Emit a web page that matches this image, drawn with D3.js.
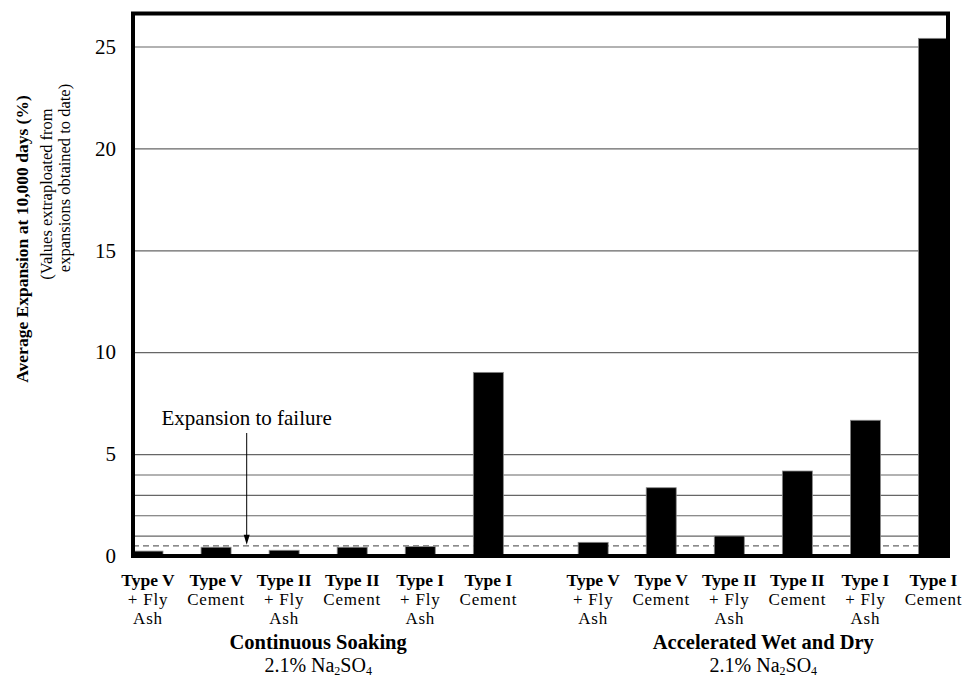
<!DOCTYPE html>
<html>
<head>
<meta charset="utf-8">
<script src="https://cdn.jsdelivr.net/npm/d3@7"></script>
<style>
  html, body { margin: 0; padding: 0; background: #fff; }
  svg text { font-family: "Liberation Serif", "Times New Roman", Tinos, "DejaVu Serif", serif; }
</style>
</head>
<body>
<svg id="chart" width="965" height="680"></svg>
<script>
// ---------- data ----------
const typeLabels = ["Type V", "Type V", "Type II", "Type II", "Type I", "Type I"];
const subLabels = [["+ Fly", "Ash"], ["Cement"], ["+ Fly", "Ash"], ["Cement"], ["+ Fly", "Ash"], ["Cement"]];
const groupNames = ["Continuous Soaking", "Accelerated Wet and Dry"];
const continuousSoaking = [0.24, 0.43, 0.28, 0.43, 0.46, 9.01];
const acceleratedWetDry = [0.67, 3.35, 0.98, 4.17, 6.66, 25.4];
const yTickValues = [0, 5, 10, 15, 20, 25];
const gridValues = [1, 2, 3, 4, 5, 10, 15, 20, 25];
const failureExpansion = 0.5;

// ---------- layout ----------
const FONT = '"Liberation Serif", "Times New Roman", Tinos, "DejaVu Serif", serif';
const svg = d3.select("#chart");
const pL = 133, pR = 948, pT = 13.5, pB = 556;
const groupOffset = 6.54;   // slot offset of second group
const barW = 30;

const y = d3.scaleLinear().domain([0, 25]).range([pB, 46.5]);
const x = d3.scaleLinear().domain([0, 11.54]).range([148, 933.5]);

const bars = [];
[continuousSoaking, acceleratedWetDry].forEach((vals, g) => {
  vals.forEach((v, i) => bars.push({ g, i, v, slot: i + g * groupOffset }));
});

// gridlines
const grid = svg.append("g")
  .attr("transform", `translate(${pL},0)`)
  .call(d3.axisLeft(y).tickValues(gridValues).tickSize(-(pR - pL)).tickFormat(""));
grid.select(".domain").remove();
grid.selectAll("line").attr("stroke", "#666").attr("stroke-width", 1.2);

// failure dashed line
svg.append("line")
  .attr("x1", pL).attr("x2", pR)
  .attr("y1", y(failureExpansion)).attr("y2", y(failureExpansion))
  .attr("stroke", "#666").attr("stroke-width", 1.2)
  .attr("stroke-dasharray", "6,4");

// bars
svg.append("g").selectAll("rect").data(bars).join("rect")
  .attr("x", d => x(d.slot) - barW / 2)
  .attr("width", barW)
  .attr("y", d => y(d.v))
  .attr("height", d => y(0) - y(d.v))
  .attr("fill", "#000")
  .attr("stroke", "#888").attr("stroke-width", 0.8);

// frame
svg.append("rect")
  .attr("x", pL).attr("y", pT)
  .attr("width", pR - pL).attr("height", pB - pT)
  .attr("fill", "none").attr("stroke", "#000").attr("stroke-width", 4);

// y axis labels
const yAxis = svg.append("g")
  .attr("transform", `translate(${pL},0)`)
  .call(d3.axisLeft(y).tickValues(yTickValues).tickSize(0).tickPadding(17).tickFormat(d3.format("d")));
yAxis.attr("font-family", FONT);
yAxis.select(".domain").remove();
yAxis.selectAll("text")
  .attr("font-size", 21).attr("fill", "#000");

// y title
svg.append("text")
  .attr("transform", "translate(28,239) rotate(-90)")
  .attr("text-anchor", "middle")
  .attr("font-weight", "bold").attr("font-size", 17.5)
  .text("Average Expansion at 10,000 days (%)");
svg.append("text")
  .attr("transform", "translate(52,194) rotate(-90)")
  .attr("text-anchor", "middle")
  .attr("font-size", 16.5)
  .text("(Values extraploated from");
svg.append("text")
  .attr("transform", "translate(70,178) rotate(-90)")
  .attr("text-anchor", "middle")
  .attr("font-size", 16.5)
  .text("expansions obtained to date)");

// category labels
const cat = svg.append("g").selectAll("g").data(bars).join("g")
  .attr("transform", d => `translate(${x(d.slot)},0)`);
cat.append("text")
  .attr("y", 585.5).attr("text-anchor", "middle")
  .attr("font-weight", "bold").attr("font-size", 17.5)
  .text(d => typeLabels[d.i]);
cat.each(function (d) {
  d3.select(this).selectAll("text.sub").data(subLabels[d.i]).join("text")
    .attr("class", "sub")
    .attr("y", (t, k) => 604.5 + k * 19)
    .attr("text-anchor", "middle")
    .attr("font-size", 17)
    .attr("letter-spacing", 0.8)
    .text(t => t);
});

// group labels
groupNames.forEach((name, g) => {
  const cx = (x(g * groupOffset) + x(5 + g * groupOffset)) / 2;
  svg.append("text")
    .attr("x", cx).attr("y", 648.5)
    .attr("text-anchor", "middle")
    .attr("font-weight", "bold").attr("font-size", 20.5)
    .text(name);
  const t = svg.append("text")
    .attr("x", cx).attr("y", 672)
    .attr("text-anchor", "middle")
    .attr("font-size", 20);
  t.append("tspan").text("2.1% Na");
  t.append("tspan").attr("font-size", 12).attr("dy", 3).text("2");
  t.append("tspan").attr("dy", -3).text("SO");
  t.append("tspan").attr("font-size", 12).attr("dy", 3).text("4");
});

// annotation
const ax = x(1.45);
svg.append("text")
  .attr("x", ax).attr("y", 425)
  .attr("text-anchor", "middle")
  .attr("font-size", 21)
  .text("Expansion to failure");
svg.append("line")
  .attr("x1", ax).attr("x2", ax)
  .attr("y1", 433).attr("y2", y(failureExpansion) - 9)
  .attr("stroke", "#000").attr("stroke-width", 1);
const tipY = y(failureExpansion) - 1;
svg.append("path")
  .attr("d", `M${ax - 3},${tipY - 10}L${ax + 3},${tipY - 10}L${ax},${tipY}Z`)
  .attr("fill", "#000");

svg.selectAll("text").attr("font-family", FONT);
</script>
</body>
</html>
